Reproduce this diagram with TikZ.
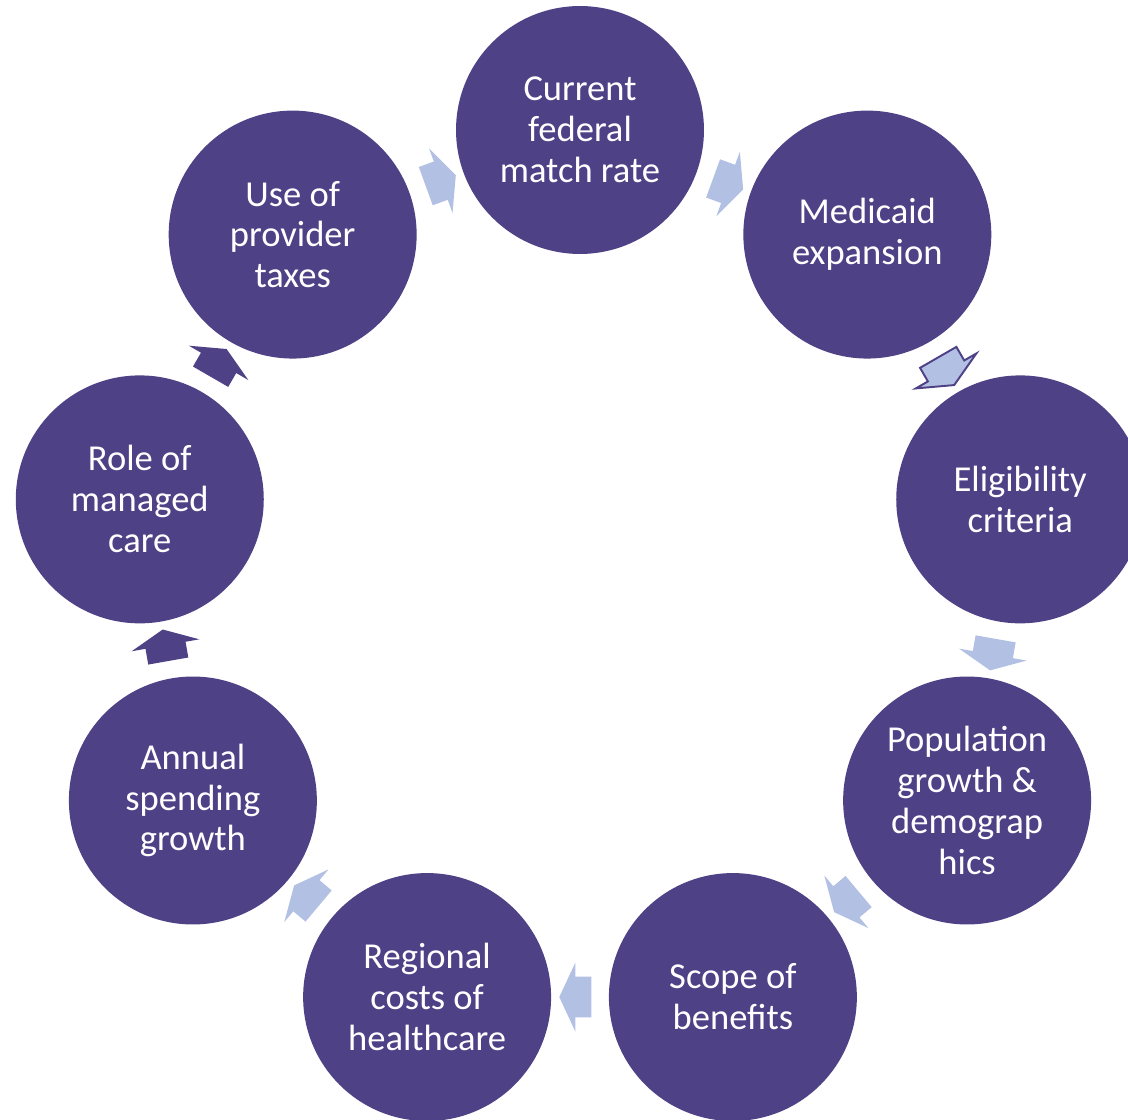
\documentclass[tikz,border=0pt]{standalone}
\usepackage{fontspec}
\setmainfont{Carlito}
\usetikzlibrary{shapes.arrows,calc}
\definecolor{plum}{RGB}{78,65,134}
\definecolor{lilac}{RGB}{178,192,227}
\begin{document}
\begin{tikzpicture}[x=0.02cm, y=0.02cm,
	topic/.style={circle, fill=plum, text=white, minimum size=4.96cm, inner sep=0pt,
		align=center, font=\fontsize{20.8}{23.3}\selectfont},
	flow/.style={single arrow, fill=lilac, minimum height=0.64cm,
		single arrow head extend=0.28cm, single arrow tip angle=130,
		single arrow head indent=0pt, inner xsep=0pt, inner ysep=0.4cm},
	flowdark/.style={flow, fill=plum},
	flowline/.style={flow, draw=plum, line width=1.1pt}]
	%frame
	\clip (-580,-542) rectangle (548,577);
	%topics
	\foreach \name/\ang/\txt in {
		rate/90/Current\\federal\\match rate,
		expansion/50/Medicaid\\expansion,
		eligibility/10/Eligibility\\criteria,
		population/-30/Population\\growth \&\\demograp\\hics,
		scope/-70/Scope of\\benefits,
		regional/-110/Regional\\costs of\\healthcare,
		spending/-150/Annual\\spending\\growth,
		managed/170/Role of\\managed\\care,
		taxes/130/Use of\\provider\\taxes}
	\node[topic] (\name) at (\ang:447) {\txt};
	%arrows
	\foreach \from/\to/\ang/\sty in {
		rate/expansion/70/flow,
		expansion/eligibility/30/flowline,
		eligibility/population/-10/flow,
		population/scope/-50/flow,
		scope/regional/-90/flow,
		regional/spending/-130/flow,
		spending/managed/-170/flowdark,
		managed/taxes/150/flowdark,
		taxes/rate/110/flow}
	\node[\sty, rotate=\ang-90] (\from-\to) at ($(\from)!0.5!(\to)$) {};
\end{tikzpicture}
\end{document}
